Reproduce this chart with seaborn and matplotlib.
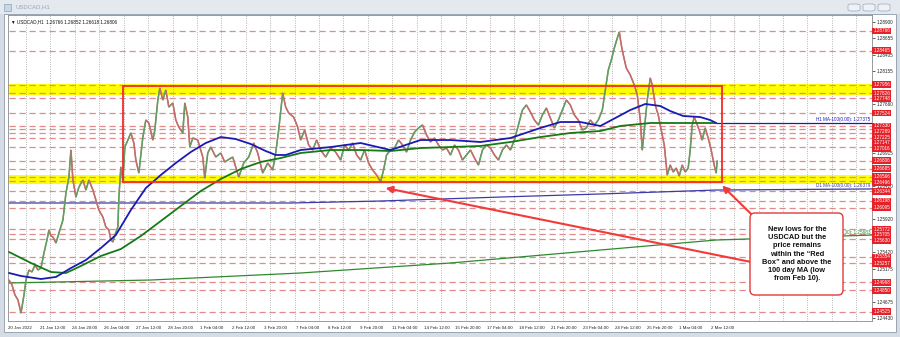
import numpy as np
import pandas as pd
import matplotlib
matplotlib.use("Agg")
import matplotlib.pyplot as plt
import matplotlib.transforms as mtransforms
from matplotlib.patches import Rectangle, FancyBboxPatch
from matplotlib.collections import LineCollection
import seaborn as sns

sns.set_style("white")
plt.rcParams['font.family'] = ['Liberation Sans', 'DejaVu Sans']

# ---------------- data ----------------
price_bar = [1, 4, 7, 10, 13, 16, 18, 21, 24, 27, 30, 33, 36, 39, 41, 43, 45, 48, 51, 55,
             58, 61, 63, 65, 68, 71, 75, 78, 81, 85, 88, 91, 95, 98, 101, 103, 105, 107, 110, 111,
             113, 115, 117, 120, 123, 126, 128, 131, 135, 138, 141, 145, 147, 150, 152, 155, 158, 161, 165, 168,
             171, 175, 177, 180, 182, 185, 190, 195, 197, 200, 203, 208, 213, 217, 220, 225, 228, 231, 236, 241,
             246, 250, 255, 260, 265, 268, 271, 275, 278, 281, 286, 290, 293, 297, 301, 305, 309, 313, 318, 323,
             328, 333, 337, 341, 345, 349, 353, 357, 361, 365, 369, 373, 376, 379, 383, 387, 391, 395, 399, 403,
             407, 411, 415, 419, 423, 427, 431, 435, 439, 443, 447, 451, 455, 459, 463, 467, 471, 475, 479, 483,
             487, 491, 495, 499, 503, 507, 511, 515, 519, 523, 527, 531, 535, 539, 543, 547, 551, 555, 559, 563,
             567, 571, 575, 579, 583, 587, 591, 595, 598, 601, 604, 607, 610, 612, 614, 616, 619, 623, 627, 630,
             633, 635, 637, 640, 643, 645, 648, 651, 654, 657, 660, 663, 666, 669, 672, 675, 678, 681, 683, 685,
             687, 689, 692, 695, 698, 701, 704, 707, 709, 710]
price = [1.25004, 1.24929, 1.24778, 1.24702, 1.24506, 1.24778, 1.25004, 1.25155, 1.25125, 1.25231,
         1.25155, 1.25185, 1.25412, 1.25608, 1.25759, 1.25669, 1.25654, 1.25563, 1.25714, 1.25910,
         1.26318, 1.26559, 1.26967, 1.26514, 1.26257, 1.26408, 1.26514, 1.26363, 1.26514, 1.26363,
         1.26212, 1.26061, 1.25955, 1.25804, 1.25759, 1.25608, 1.25578, 1.25684, 1.25804, 1.26257,
         1.26710, 1.26514, 1.27012, 1.27118, 1.27224, 1.27073, 1.26816, 1.26620, 1.27163, 1.27420,
         1.27375, 1.27118, 1.27269, 1.27722, 1.27903, 1.27722, 1.27873, 1.27616, 1.27677, 1.27420,
         1.27314, 1.27224, 1.27677, 1.27465, 1.27012, 1.27148, 1.27118, 1.26861, 1.26544, 1.26922,
         1.27012, 1.26861, 1.26922, 1.26786, 1.26816, 1.26861, 1.26710, 1.26559, 1.26771, 1.26861,
         1.27073, 1.26922, 1.26620, 1.26771, 1.26665, 1.26922, 1.27269, 1.27828, 1.27616, 1.27526,
         1.27465, 1.27314, 1.27118, 1.27269, 1.27043, 1.26967, 1.27118, 1.26967, 1.26861, 1.26997,
         1.26937, 1.26816, 1.27043, 1.26967, 1.27073, 1.26892, 1.26816, 1.26967, 1.26771, 1.26665,
         1.26590, 1.26484, 1.26665, 1.26892, 1.26967, 1.26997, 1.27118, 1.27043, 1.26937, 1.27118,
         1.27239, 1.27300, 1.27345, 1.27194, 1.27088, 1.27148, 1.27043, 1.26967, 1.26997, 1.26892,
         1.27043, 1.26967, 1.26816, 1.26892, 1.26967, 1.26846, 1.26741, 1.26967, 1.27043, 1.26997,
         1.26892, 1.26816, 1.26967, 1.27043, 1.26967, 1.27118, 1.27345, 1.27571, 1.27647, 1.27541,
         1.27420, 1.27345, 1.27496, 1.27601, 1.27450, 1.27300, 1.27420, 1.27571, 1.27722, 1.27647,
         1.27496, 1.27420, 1.27269, 1.27300, 1.27420, 1.27345, 1.27420, 1.27571, 1.27873, 1.28175,
         1.28326, 1.28507, 1.28658, 1.28749, 1.28553, 1.28402, 1.28205, 1.28100, 1.27949, 1.27798,
         1.27420, 1.26967, 1.27269, 1.27722, 1.28054, 1.27949, 1.27647, 1.27496, 1.27269, 1.27043,
         1.26590, 1.26741, 1.26635, 1.26695, 1.26575, 1.26741, 1.26635, 1.26695, 1.26967, 1.27345,
         1.27465, 1.27390, 1.27269, 1.27118, 1.27300, 1.27148, 1.26967, 1.26741, 1.26620, 1.26806]

h1_ma100_bar = [1, 13, 33, 48, 63, 78, 93, 108, 123, 138, 153, 168, 183, 198, 213, 228, 243, 258, 268, 278,
                293, 323, 353, 383, 413, 443, 473, 503, 533, 553, 573, 593, 608, 623, 638, 653, 663, 676, 693, 703, 709]
h1_ma100 = [1.25110, 1.25065, 1.25019, 1.25050, 1.25185, 1.25306, 1.25487, 1.25684, 1.26061, 1.26393,
            1.26590, 1.26771, 1.26937, 1.27073, 1.27163, 1.27133, 1.27058, 1.26952, 1.26892, 1.26892,
            1.26967, 1.27012, 1.27073, 1.26967, 1.27118, 1.27118, 1.27088, 1.27148, 1.27300, 1.27390,
            1.27390, 1.27330, 1.27450, 1.27571, 1.27662, 1.27632, 1.27556, 1.27481, 1.27465, 1.27420, 1.27375]

h1_ma200_bar = [1, 23, 43, 58, 73, 93, 113, 133, 153, 173, 193, 213, 233, 253, 273, 293, 323, 353, 383, 413,
                443, 473, 503, 533, 563, 593, 613, 643, 673, 709]
h1_ma200 = [1.25427, 1.25261, 1.25125, 1.25110, 1.25216, 1.25367, 1.25472, 1.25669, 1.25895, 1.26122,
            1.26348, 1.26529, 1.26680, 1.26786, 1.26846, 1.26922, 1.26967, 1.26967, 1.26952, 1.26997,
            1.27012, 1.27028, 1.27088, 1.27163, 1.27224, 1.27254, 1.27330, 1.27375, 1.27375, 1.27375]

d1_ma100_bar = [1, 283, 373, 493, 593, 709, 865]
d1_ma100 = [1.26167, 1.26167, 1.26197, 1.26257, 1.26303, 1.26363, 1.26379]

d1_ma200_bar = [1, 143, 293, 443, 593, 709, 865]
d1_ma200 = [1.24959, 1.25004, 1.25110, 1.25261, 1.25457, 1.25608, 1.25683]

h1_ma_value = 1.27375
d1_ma100_value = 1.26379
d1_ma200_value = 1.25683

levels = [1.28766, 1.28465, 1.27956, 1.27826, 1.27748, 1.27524, 1.27330, 1.27289, 1.27225, 1.27147,
          1.27016, 1.26806, 1.26685, 1.26566, 1.26496, 1.26344, 1.26198, 1.26095, 1.25772, 1.25705,
          1.25630, 1.25354, 1.25257, 1.24968, 1.24850, 1.24525]

axis_ticks = [1.28900, 1.28655, 1.28405, 1.28155, 1.27660, 1.26915, 1.26420,
              1.25920, 1.25420, 1.25175, 1.24675, 1.24430]

time_labels = ["20 Jan 2022", "21 Jan 12:00", "24 Jan 20:00", "26 Jan 04:00", "27 Jan 12:00",
               "28 Jan 20:00", "1 Feb 04:00", "2 Feb 12:00", "3 Feb 20:00", "7 Feb 04:00",
               "8 Feb 12:00", "9 Feb 20:00", "11 Feb 04:00", "14 Feb 12:00", "15 Feb 20:00",
               "17 Feb 04:00", "18 Feb 12:00", "21 Feb 20:00", "23 Feb 04:00", "24 Feb 12:00",
               "25 Feb 20:00", "1 Mar 04:00", "2 Mar 12:00"]
time_label_bars = [0, 32, 64, 96, 128, 160, 192, 224, 256, 288, 320, 352, 384, 416, 448,
                   480, 512, 544, 576, 608, 640, 672, 704]

yellow_top = (1.27805, 1.27968)
yellow_bottom = (1.26455, 1.26590)
red_box_bars = (115, 715)
red_box_prices = (1.26485, 1.27935)

feb10_low = (378, 1.26393)
current_low = (715, 1.26430)

header = "\u25bc USDCAD,H1  1.26766 1.26852 1.26618 1.26806"
note = ("New lows for the\nUSDCAD but the\nprice remains\nwithin the \u201cRed\n"
        "Box\u201d and above the\n100 day MA (low\nfrom Feb 10).")

# ---------------- figure / window frame ----------------
W, H = 900, 337
fig = plt.figure(figsize=(9.0, 3.37), dpi=100)
fig.patch.set_facecolor('#d5dce6')

def fx(px):
    return px / W

def fy(py):
    return 1 - py / H

# title bar
fig.add_artist(Rectangle((0, fy(14)), 1, 14 / H, transform=fig.transFigure,
                         fc='#e4e9f0', ec='none', zorder=0))
fig.add_artist(Rectangle((fx(4), fy(11)), 7 / W, 7 / H, transform=fig.transFigure,
                         fc='#c9d6e6', ec='#8fa3bd', lw=0.5))
fig.text(fx(15), fy(7), "USDCAD,H1", fontsize=4.3, color='#9aa6b6', va='center')
for bx in (848, 863, 878):
    fig.add_artist(FancyBboxPatch((fx(bx), fy(11)), 12 / W, 7 / H, transform=fig.transFigure,
                                  boxstyle='round,pad=0,rounding_size=0.004',
                                  fc='#eef2f7', ec='#9aa6b6', lw=0.5))
# client area
fig.add_artist(Rectangle((fx(4), fy(332)), 892 / W, 318 / H, transform=fig.transFigure,
                         fc='white', ec='#9aa5b5', lw=0.7, zorder=0))

# ---------------- plot axes ----------------
ax = fig.add_axes([fx(8), fy(321), 864 / W, 306 / H])
ax.set_facecolor('white')
ax.set_xlim(1, 865)
ax.set_ylim(1.24385, 1.29006)

# yellow zones
ax.axhspan(*yellow_top, color='#ffff00', zorder=1, lw=0)
ax.axhspan(*yellow_bottom, color='#ffff00', zorder=1, lw=0)

# vertical dotted grid (one per day)
for gx in np.arange(18, 865, 24.45):
    ax.axvline(gx, color='#8c8c8c', lw=0.55, ls=(0, (1, 2)), zorder=1.5)

# horizontal levels
ax.hlines(levels, 1, 865, colors='#e08c8c', linestyles=(0, (5, 3)), lw=0.9, zorder=2)

# long moving averages
df_d1_100 = pd.DataFrame({'bar': d1_ma100_bar, 'v': d1_ma100})
df_d1_200 = pd.DataFrame({'bar': d1_ma200_bar, 'v': d1_ma200})
sns.lineplot(data=df_d1_100, x='bar', y='v', ax=ax, color='#3b3ba6', lw=0.9, zorder=3)
sns.lineplot(data=df_d1_200, x='bar', y='v', ax=ax, color='#2f8a2f', lw=0.9, zorder=3)

# H1 moving averages
df_ma100 = pd.DataFrame({'bar': h1_ma100_bar, 'v': h1_ma100})
df_ma200 = pd.DataFrame({'bar': h1_ma200_bar, 'v': h1_ma200})
sns.lineplot(data=df_ma200, x='bar', y='v', ax=ax, color='#157a15', lw=1.3, zorder=5)
sns.lineplot(data=df_ma100, x='bar', y='v', ax=ax, color='#1a1ab4', lw=1.3, zorder=5.1)
ax.hlines(h1_ma_value, h1_ma100_bar[-1], 865, colors='#1a1ab4', lw=0.9, zorder=3)

# price (bar-like colouring: up moves green, down moves red)
df_price = pd.DataFrame({'bar': price_bar, 'price': price})
sns.lineplot(data=df_price, x='bar', y='price', ax=ax, color='#a88a78', lw=1.0, zorder=4)
pts = np.column_stack([df_price['bar'], df_price['price']])
segs = np.stack([pts[:-1], pts[1:]], axis=1)
cols = ['#5f9f5f' if b >= a else '#c96a6a' for a, b in zip(price[:-1], price[1:])]
ax.add_collection(LineCollection(segs, colors=cols, linewidths=1.1, zorder=4.5))

# red box
ax.add_patch(Rectangle((red_box_bars[0], red_box_prices[0]),
                       red_box_bars[1] - red_box_bars[0], red_box_prices[1] - red_box_prices[0],
                       fill=False, ec='#f52a2a', lw=1.3, zorder=6))

# MA labels
lab_kw = dict(fontsize=3.3, ha='right', va='bottom', zorder=7)
ax.text(863, h1_ma_value + 0.00008, f"H1 MA-100(0.00): {h1_ma_value:.5f}", color='#1a1ab4', **lab_kw)
ax.text(863, d1_ma100_value + 0.00008, f"D1 MA-100(0.00): {d1_ma100_value:.5f}", color='#3b3ba6', **lab_kw)
t200 = ax.text(863, d1_ma200_value + 0.00008, f"D1 MA-200(0.00): {d1_ma200_value:.5f}",
               color='#2f8a2f', **lab_kw)
# the annotation box hides the left part of this label
clip_bb = mtransforms.Bbox.from_extents(845, 0, 872, 337)
t200.set_clip_box(mtransforms.TransformedBbox(clip_bb, mtransforms.Affine2D().scale(1, -1).translate(0, 337)))
t200.set_clip_on(True)

# header text
ax.text(0.003, 0.985, header, transform=ax.transAxes, fontsize=3.3, va='top', ha='left',
        family=['Liberation Sans', 'DejaVu Sans'], color='#111111', zorder=8)

# axes styling
for s in ax.spines.values():
    s.set_color('#8a8a8a')
    s.set_linewidth(0.6)
ax.set_xlabel('')
ax.set_ylabel('')
ax.yaxis.tick_right()
ax.set_yticks(axis_ticks)
ax.set_yticklabels([f"{t:.5f}" for t in axis_ticks])
ax.set_xticks(time_label_bars)
ax.set_xticklabels(time_labels)
for lab in ax.get_xticklabels():
    lab.set_horizontalalignment('left')
ax.tick_params(axis='y', labelsize=3.3, length=2, width=0.5, pad=1.2, colors='#222222')
ax.tick_params(axis='x', labelsize=3.2, length=2, width=0.5, pad=1.5, colors='#222222')

# red price labels on the right scale (shifted to avoid overlap)
trans = mtransforms.blended_transform_factory(ax.transAxes, ax.transData)
min_gap = 0.00085
prev = None
for lv in sorted(levels, reverse=True):
    yl = lv if prev is None else min(lv, prev - min_gap)
    prev = yl
    ax.text(1.0015, yl, f"{lv:.5f}", transform=trans, fontsize=3.3, color='white',
            va='center', ha='left', clip_on=False, zorder=10,
            bbox=dict(boxstyle='square,pad=0.18', fc='#e5222a', ec='none'))

# arrows
arrow_kw = dict(arrowstyle='-|>', color='#f23a3a', lw=1.5, mutation_scale=10, shrinkA=0, shrinkB=0)
ax.annotate('', xy=feb10_low, xytext=(744, 1.25276), arrowprops=arrow_kw, zorder=9)
ax.annotate('', xy=current_low, xytext=(745, 1.25986), arrowprops=arrow_kw, zorder=9)

# annotation box
fig.add_artist(FancyBboxPatch((7.50, 0.42), 0.93, 0.82, transform=fig.dpi_scale_trans,
                              boxstyle='round,pad=0,rounding_size=0.05',
                              fc='white', ec='#e03a3a', lw=1.0, zorder=20))
fig.text(fx(797), fy(254), note, ha='center', va='center', fontsize=5.3, fontweight='bold',
         linespacing=1.25, color='#111111', zorder=21)

fig.savefig('out.png', dpi=100, facecolor=fig.get_facecolor())
